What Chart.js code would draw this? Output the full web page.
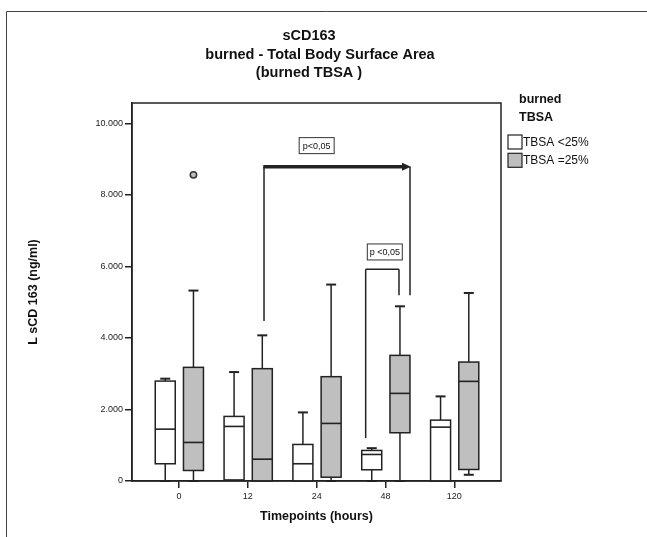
<!DOCTYPE html>
<html>
<head>
<meta charset="utf-8">
<script src="https://cdn.jsdelivr.net/npm/chart.js@4"></script>
<style>
  html, body { margin: 0; padding: 0; background: #fff; }
  .chart-container { position: relative; width: 647px; height: 537px; }
</style>
</head>
<body>
<div class="chart-container"><canvas id="myChart" width="647" height="537"></canvas></div>
<script>
const timepoints = ['0', '12', '24', '48', '120'];

// TBSA <25%
const lowMin = [0, 30, 0, 0, 0];
const lowQ1 = [482, 30, 0, 314, 0];
const lowMedian = [1450, 1526, 482, 742, 1506];
const lowQ3 = [2794, 1806, 1022, 854, 1702];
const lowMax = [2861, 3046, 1918, 918, 2366];

// TBSA =25%
const highMin = [0, 0, 0, 0, 174];
const highQ1 = [294, 0, 106, 1349, 322];
const highMedian = [1078, 610, 1610, 2450, 2786];
const highQ3 = [3178, 3141, 2917, 3513, 3326];
const highMax = [5325, 4073, 5493, 4885, 5258];
const highOutliers = [[8561], [], [], [], []];

const yTicks = [0, 2000, 4000, 6000, 8000, 10000];

// significance brackets (x in category index units, y in ng/ml)
const brackets = [
  { x1: 1.235, x2: 3.356, y1: 4474, yTop: 8785, y2: 5193, arrow: true, label: 'p<0,05', labelX: 2.0, labelY: 9378 },
  { x1: 2.712, x2: 3.196, y1: 1198, yTop: 5921, y2: 5193, arrow: false, label: 'p <0,05', labelX: 2.99, labelY: 6405 },
];

const FONT = "'Liberation Sans', Arial, sans-serif";
const INK = '#222';

const groups = [
  { name: 'TBSA <25%', fill: '#ffffff', offset: -0.2, min: lowMin, q1: lowQ1, med: lowMedian, q3: lowQ3, max: lowMax },
  { name: 'TBSA =25%', fill: '#bfbfbf', offset: 0.21, min: highMin, q1: highQ1, med: highMedian, q3: highQ3, max: highMax },
];

const outlierPoints = [];
highOutliers.forEach((list, i) => list.forEach(v => outlierPoints.push({ x: i + groups[1].offset, y: v })));

function line(ctx, x1, y1, x2, y2) {
  ctx.beginPath();
  ctx.moveTo(x1, y1);
  ctx.lineTo(x2, y2);
  ctx.stroke();
}

const boxPlugin = {
  id: 'boxes',
  beforeDraw(chart) {
    const ctx = chart.ctx;
    ctx.save();
    ctx.fillStyle = '#fff';
    ctx.fillRect(0, 0, chart.width, chart.height);
    // outer frame
    ctx.strokeStyle = '#444';
    ctx.lineWidth = 1;
    ctx.beginPath();
    ctx.moveTo(6.5, chart.height);
    ctx.lineTo(6.5, 11.5);
    ctx.lineTo(chart.width, 11.5);
    ctx.stroke();

    // title
    ctx.fillStyle = '#111';
    ctx.textAlign = 'center';
    ctx.textBaseline = 'middle';
    ctx.font = 'bold 14.5px ' + FONT;
    ctx.fillText('sCD163', 309, 36);
    ctx.fillText('burned - Total Body Surface Area', 320, 55);
    ctx.fillText('(burned TBSA )', 309, 73);

    // legend
    ctx.textAlign = 'left';
    ctx.font = 'bold 12.5px ' + FONT;
    ctx.fillText('burned', 519, 100);
    ctx.fillText('TBSA', 519, 118);
    ctx.font = '12px ' + FONT;
    groups.forEach((g, k) => {
      const top = 135 + k * 18.3;
      ctx.fillStyle = g.fill;
      ctx.fillRect(508, top, 14, 14);
      ctx.strokeStyle = INK;
      ctx.lineWidth = 1.2;
      ctx.strokeRect(508, top, 14, 14);
      ctx.fillStyle = '#111';
      ctx.fillText(g.name, 523, top + 7.5);
    });
    ctx.restore();
  },
  beforeDatasetsDraw(chart) {
    const { ctx, chartArea, scales: { x, y } } = chart;
    ctx.save();
    ctx.strokeStyle = INK;

    groups.forEach(g => {
      timepoints.forEach((t, i) => {
        const cx = x.getPixelForValue(i + g.offset);
        const hw = 10;
        const cap = 5;
        const pMin = y.getPixelForValue(g.min[i]);
        const pQ1 = y.getPixelForValue(g.q1[i]);
        const pMed = y.getPixelForValue(g.med[i]);
        const pQ3 = y.getPixelForValue(g.q3[i]);
        const pMax = y.getPixelForValue(g.max[i]);

        ctx.lineWidth = 1.5;
        line(ctx, cx, pQ3, cx, pMax);
        line(ctx, cx, pQ1, cx, pMin);
        ctx.lineWidth = 2;
        line(ctx, cx - cap, pMax, cx + cap, pMax);
        if (g.min[i] < g.q1[i]) line(ctx, cx - cap, pMin, cx + cap, pMin);

        ctx.fillStyle = g.fill;
        ctx.fillRect(cx - hw, pQ3, hw * 2, pQ1 - pQ3);
        ctx.lineWidth = 1.5;
        ctx.strokeRect(cx - hw, pQ3, hw * 2, pQ1 - pQ3);
        ctx.lineWidth = 1.6;
        line(ctx, cx - hw, pMed, cx + hw, pMed);
      });
    });

    // brackets
    brackets.forEach(b => {
      const xa = x.getPixelForValue(b.x1);
      const xb = x.getPixelForValue(b.x2);
      const ya = y.getPixelForValue(b.y1);
      const yt = y.getPixelForValue(b.yTop);
      const yb = y.getPixelForValue(b.y2);
      ctx.lineWidth = 1.5;
      line(ctx, xa, ya, xa, yt);
      line(ctx, xb, yt, xb, yb);
      if (b.arrow) {
        ctx.lineWidth = 3.5;
        line(ctx, xa - 0.75, yt, xb - 6, yt);
        ctx.fillStyle = INK;
        ctx.beginPath();
        ctx.moveTo(xb + 1, yt);
        ctx.lineTo(xb - 8, yt - 4);
        ctx.lineTo(xb - 8, yt + 4);
        ctx.closePath();
        ctx.fill();
      } else {
        line(ctx, xa, yt, xb, yt);
      }
      const lx = x.getPixelForValue(b.labelX);
      const ly = y.getPixelForValue(b.labelY);
      ctx.fillStyle = '#fff';
      ctx.fillRect(lx - 17.5, ly - 8, 35, 16);
      ctx.lineWidth = 1;
      ctx.strokeStyle = '#333';
      ctx.strokeRect(lx - 17.5, ly - 8, 35, 16);
      ctx.fillStyle = '#111';
      ctx.font = '9px ' + FONT;
      ctx.textAlign = 'center';
      ctx.textBaseline = 'middle';
      ctx.fillText(b.label, lx, ly + 0.5);
      ctx.strokeStyle = INK;
    });

    // plot frame
    ctx.lineWidth = 1.5;
    ctx.strokeStyle = INK;
    ctx.strokeRect(chartArea.left, chartArea.top, chartArea.right - chartArea.left, chartArea.bottom - chartArea.top);
    ctx.restore();
  },
};

const ctx = document.getElementById('myChart').getContext('2d');

const chart = new Chart(ctx, {
  type: 'scatter',
  data: {
    datasets: [
      {
        label: 'outliers',
        data: outlierPoints,
        pointRadius: 3.2,
        pointBackgroundColor: '#bdbdbd',
        pointBorderColor: '#333',
        pointBorderWidth: 1.5,
      },
    ],
  },
  options: {
    responsive: false,
    animation: false,
    devicePixelRatio: 1,
    layout: {
      padding: { top: 103, right: 146, left: 0, bottom: 0 },
    },
    plugins: {
      legend: { display: false },
      title: { display: false },
      tooltip: { enabled: false },
    },
    scales: {
      x: {
        type: 'linear',
        min: -0.683,
        max: 4.678,
        afterBuildTicks: scale => {
          scale.ticks = timepoints.map((t, i) => ({ value: i }));
        },
        afterFit: scale => {
          scale.height = 56;
        },
        ticks: {
          callback: value => timepoints[value],
          font: { family: FONT, size: 9 },
          color: INK,
          padding: 3,
          maxRotation: 0,
        },
        grid: {
          drawOnChartArea: false,
          drawTicks: true,
          tickLength: 7,
          color: INK,
          lineWidth: 1.5,
        },
        border: { display: true, color: INK, width: 1.5 },
        title: {
          display: true,
          text: 'Timepoints (hours)',
          font: { family: FONT, size: 12.5, weight: 'bold' },
          color: '#111',
          padding: { top: 0, bottom: 13 },
        },
      },
      y: {
        type: 'linear',
        min: 0,
        max: 10570,
        afterBuildTicks: scale => {
          scale.ticks = yTicks.map(v => ({ value: v }));
        },
        afterFit: scale => {
          scale.width = 132;
        },
        ticks: {
          callback: value => (value === 0 ? '0' : (value / 1000).toFixed(3)),
          font: { family: FONT, size: 9 },
          color: INK,
          padding: 2,
        },
        grid: {
          drawOnChartArea: false,
          drawTicks: true,
          tickLength: 7,
          color: INK,
          lineWidth: 1.5,
        },
        border: { display: true, color: INK, width: 1.5 },
        title: {
          display: true,
          text: 'L sCD 163 (ng/ml)',
          font: { family: FONT, size: 12.5, weight: 'bold' },
          color: '#111',
          padding: { top: 26, bottom: 0 },
        },
      },
    },
  },
  plugins: [boxPlugin],
});
</script>
</body>
</html>
